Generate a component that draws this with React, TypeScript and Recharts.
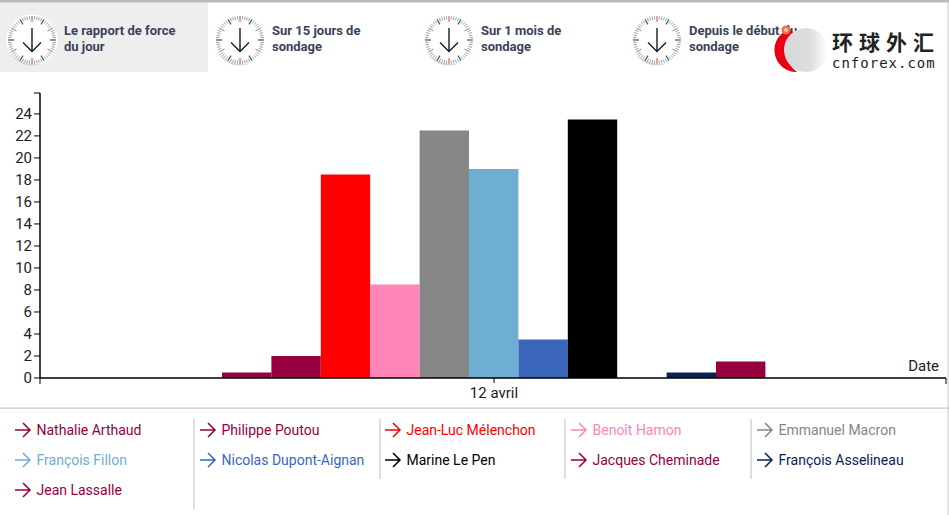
import React from 'react';
import { BarChart, Bar, XAxis, YAxis } from 'recharts';

const candidates = [
  'Nathalie Arthaud',
  'Philippe Poutou',
  'Jean-Luc Mélenchon',
  'Benoît Hamon',
  'Emmanuel Macron',
  'François Fillon',
  'Nicolas Dupont-Aignan',
  'Marine Le Pen',
  'Jacques Cheminade',
  'François Asselineau',
  'Jean Lassalle'
];
const scores = [0.5, 2, 18.5, 8.5, 22.5, 19, 3.5, 23.5, 0, 0.5, 1.5];
const colors = [
  '#96003f', '#96003f', '#ff0000', '#ff85b8', '#868686', '#6eaed3',
  '#3a66bb', '#000000', '#96003f', '#0a2158', '#96003f'
];
const yTicks = [0, 2, 4, 6, 8, 10, 12, 14, 16, 18, 20, 22, 24, 25.9];
const dateLabel = '12 avril';
const tabs = [
  ['Le rapport de force', 'du jour'],
  ['Sur 15 jours de', 'sondage'],
  ['Sur 1 mois de', 'sondage'],
  ['Depuis le début du', 'sondage']
];

const row: Record<string, string | number> = { date: dateLabel };
candidates.forEach((name, i) => { row[name] = scores[i]; });
const chartData = [row];

const font = 'Roboto, sans-serif';
const tabX = [0, 208, 417, 625];
const legendX = [15, 200, 385, 571, 757];
const legendY = [430, 460, 490];
const seps = [[194, 509], [380, 479], [565, 479], [751, 479]];

function Clock({ cx, cy }: { cx: number; cy: number }) {
  const ticks = [];
  for (let i = 0; i < 60; i++) {
    const a = (i * Math.PI) / 30;
    const major = i % 5 === 0;
    const r0 = major ? 18 : 20.5;
    const r1 = 24;
    let stroke = '#8fa6b2';
    if (i === 0 || i === 30) stroke = '#d0704f';
    else if (i % 10 === 5 && major) stroke = '#4b5458';
    else if (major) stroke = '#c0957a';
    ticks.push(
      <line
        key={i}
        x1={cx + r0 * Math.sin(a)}
        y1={cy - r0 * Math.cos(a)}
        x2={cx + r1 * Math.sin(a)}
        y2={cy - r1 * Math.cos(a)}
        stroke={stroke}
        strokeWidth={major ? 1.2 : 1}
      />
    );
  }
  return (
    <g>
      <circle cx={cx} cy={cy} r={25.5} fill="#fff" />
      <path
        d={`M ${cx - 23} ${cy + 11} A 25.5 25.5 0 0 0 ${cx + 10} ${cy + 23.5} A 32 32 0 0 1 ${cx - 23} ${cy + 11} Z`}
        fill="#d0d3d6"
      />
      {ticks}
      <path
        d={`M ${cx} ${cy - 12} V ${cy + 11.5} M ${cx - 9} ${cy + 2.5} L ${cx} ${cy + 11.5} L ${cx + 9} ${cy + 2.5}`}
        fill="none"
        stroke="#141d2b"
        strokeWidth={1.4}
      />
    </g>
  );
}

function Header() {
  return (
    <svg width={949} height={85} style={{ position: 'absolute', left: 0, top: 0 }}>
      <defs>
        <linearGradient id="logoGrey" x1="0" x2="1" y1="0" y2="0">
          <stop offset="0" stopColor="#d8d8d8" />
          <stop offset="0.6" stopColor="#dedede" />
          <stop offset="1" stopColor="#ffffff" />
        </linearGradient>
      </defs>
      <rect x={0} y={0} width={949} height={2.5} fill="#b9b9b9" />
      <rect x={0} y={3} width={208} height={69} fill="#eeeeee" />
      {tabs.map((lines, i) => (
        <g key={i}>
          <Clock cx={tabX[i] + 32} cy={40} />
          {lines.map((t, j) => (
            <text
              key={j}
              x={tabX[i] + 64}
              y={35 + j * 16}
              fontFamily={font}
              fontSize={13}
              fontWeight={700}
              fill="#3a4358"
            >
              {t}
            </text>
          ))}
        </g>
      ))}
      {/* watermark */}
      <path d="M 790 29 A 22 22 0 0 0 795 72 L 797 72 A 30 30 0 0 1 785 50 A 24 24 0 0 1 795 34 Z" fill="#e60012" />
      <path d="M 784 36 A 24 24 0 0 0 792 69 L 786 50 Z" fill="#e60012" />
      <circle cx={806} cy={50} r={22} fill="url(#logoGrey)" />
      <circle cx={786} cy={30} r={4.5} fill="#f26b4a" />
      <circle cx={786} cy={30} r={2} fill="#f9c9a8" />
      <text x={832} y={50} fontFamily="'Noto Sans CJK SC'" fontSize={21} fontWeight={700} letterSpacing={6} fill="#222">
        环球外汇
      </text>
      <text x={832} y={68} fontFamily="'DejaVu Sans Mono'" fontSize={14} letterSpacing={1} fill="#222">
        cnforex.com
      </text>
    </svg>
  );
}

function LegendBlock() {
  return (
    <svg width={949} height={115} viewBox="0 400 949 115" style={{ position: 'absolute', left: 0, top: 400 }}>
      <rect x={0} y={407.5} width={949} height={1.2} fill="#c4c4c4" />
      <rect x={0} y={412} width={949} height={1} fill="#f5f5f5" />
      {seps.map(([x, end], i) => (
        <line key={i} x1={x} x2={x} y1={419} y2={end} stroke="#bdbdbd" strokeWidth={1} />
      ))}
      {candidates.map((name, i) => {
        const x = legendX[i % 5];
        const y = legendY[Math.floor(i / 5)];
        return (
          <g key={name}>
            <path
              d={`M ${x} ${y} H ${x + 15} M ${x + 8} ${y - 7} L ${x + 15} ${y} L ${x + 8} ${y + 7}`}
              fill="none"
              stroke={colors[i]}
              strokeWidth={1.5}
            />
            <text x={x + 21.5} y={y + 5} fontFamily={font} fontSize={14} fill={colors[i]}>
              {name}
            </text>
          </g>
        );
      })}
    </svg>
  );
}

export default function App() {
  return (
    <div style={{ position: 'absolute', left: 0, top: 0, width: 949, height: 515, background: '#fff', overflow: 'hidden' }}>
      <Header />
      <div style={{ position: 'absolute', left: 0, top: 0 }}>
        <BarChart
          width={949}
          height={410}
          data={chartData}
          margin={{ top: 93, right: 3, bottom: 0, left: 0 }}
          barCategoryGap="20%"
          barGap={0}
          barSize={49.4}
        >
          <XAxis
            dataKey="date"
            height={32}
            padding={{ left: 2, right: 0 }}
            axisLine={{ stroke: '#000', strokeWidth: 1.5 }}
            tickLine={{ stroke: '#000' }}
            tickSize={5}
            tickMargin={4}
            tick={{ fill: '#222', fontSize: 15, fontFamily: font }}
            label={{ value: 'Date', position: 'insideTopRight', dy: -23, dx: -2, fill: '#222', fontSize: 15, fontFamily: font }}
          />
          <YAxis
            width={40}
            domain={[0, 25.9]}
            ticks={yTicks}
            interval={0}
            tickFormatter={(v: number) => (v > 24 ? '' : String(v))}
            axisLine={{ stroke: '#000', strokeWidth: 1.5 }}
            tickLine={{ stroke: '#000' }}
            tickSize={6}
            tick={{ fill: '#222', fontSize: 15, fontFamily: font }}
          />
          {candidates.map((name, i) => (
            <Bar key={name} dataKey={name} fill={colors[i]} isAnimationActive={false} />
          ))}
        </BarChart>
      </div>
      <LegendBlock />
      {/* end ticks of the x axis, right page border */}
      <svg width={949} height={515} style={{ position: 'absolute', left: 0, top: 0, pointerEvents: 'none' }}>
        <line x1={40} x2={40} y1={378} y2={384} stroke="#000" />
        <line x1={946} x2={946} y1={378} y2={384} stroke="#000" />
        <line x1={948} x2={948} y1={3} y2={515} stroke="#c9c9c9" />
      </svg>
    </div>
  );
}
